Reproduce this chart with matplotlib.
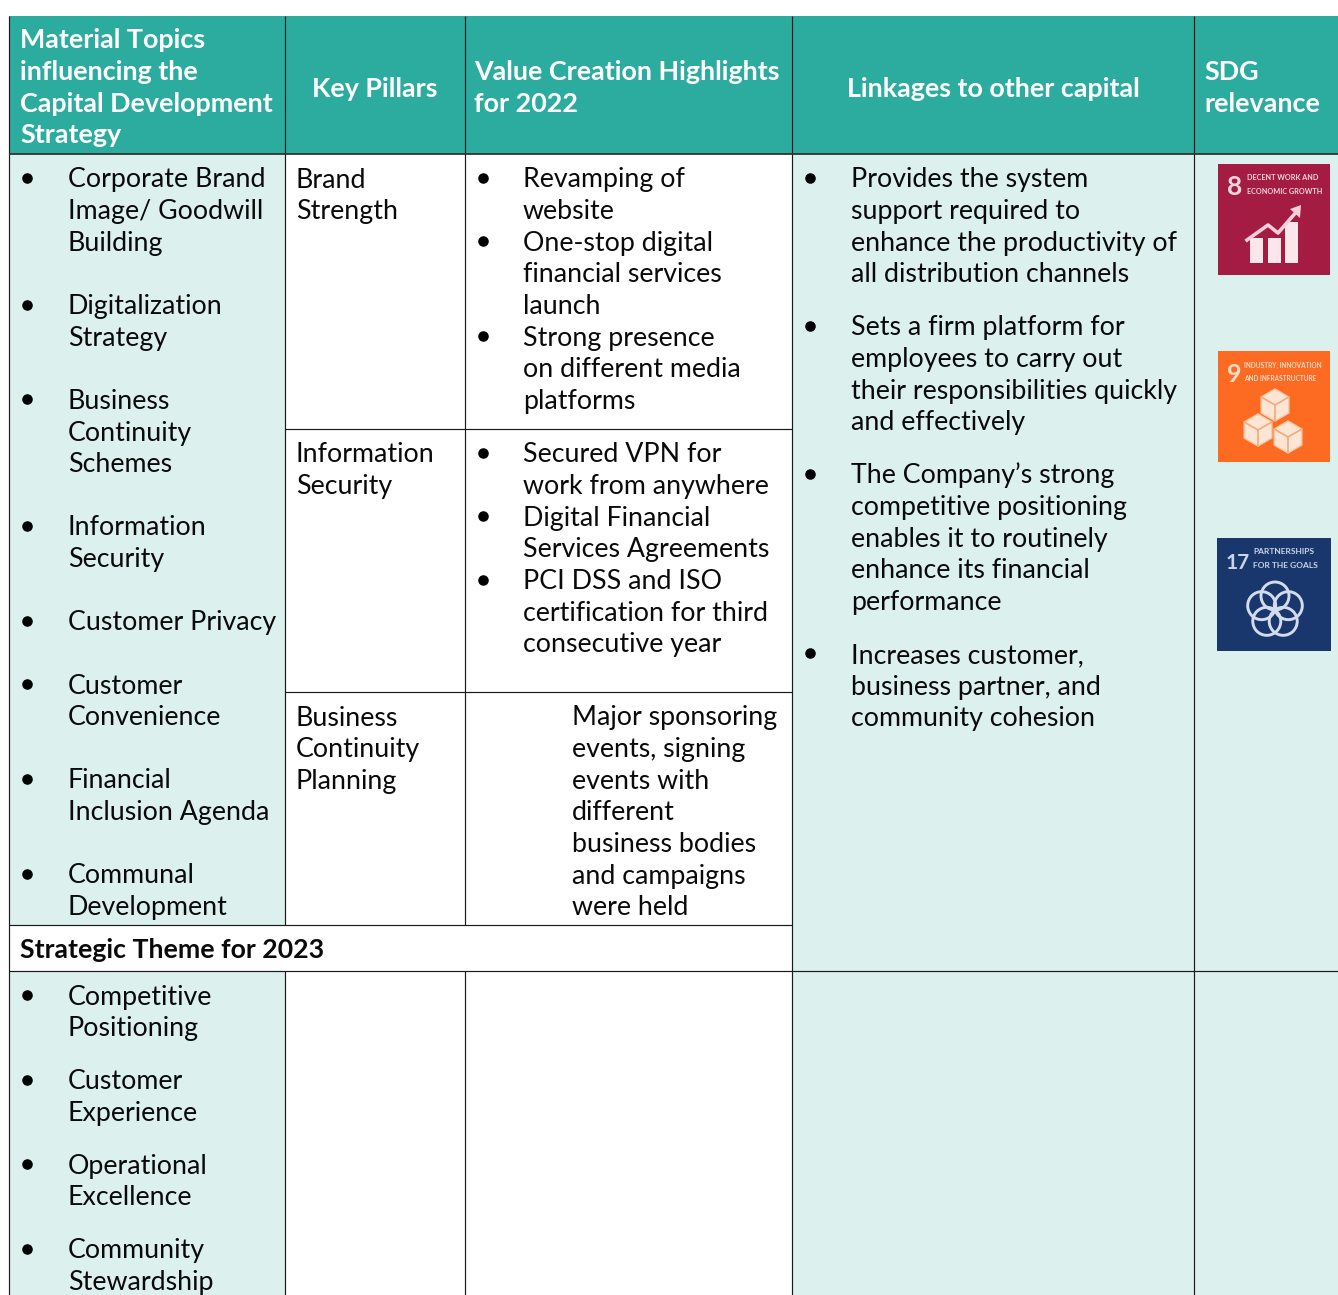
""" Capital development table with material topics, pillars and SDG icons """

import matplotlib

matplotlib.use("Agg")
import matplotlib.pyplot as plt
import numpy as np
from matplotlib.patches import Circle, Polygon, Rectangle

plt.rcParams["font.family"] = ["Lato", "DejaVu Sans"]

TEAL = "#2cac9e"
PALE = "#dcf0ed"
LINE = "#1a1a1a"

header_left = [
    (["Material Topics", "influencing the", "Capital Development", "Strategy"], 20, 48.5),
    (["Value Creation Highlights", "for 2022"], 474.5, 80.5),
    (["SDG", "relevance"], 1204.5, 80.5),
]
header_centre = [("Key Pillars", 375), ("Linkages to other capital", 993)]

topics_2022 = [
    ["Corporate Brand", "Image/ Goodwill", "Building"],
    ["Digitalization", "Strategy"],
    ["Business", "Continuity", "Schemes"],
    ["Information", "Security"],
    ["Customer Privacy"],
    ["Customer", "Convenience"],
    ["Financial", "Inclusion Agenda"],
    ["Communal", "Development"],
]
topics_2023 = [
    ["Competitive", "Positioning"],
    ["Customer", "Experience"],
    ["Operational", "Excellence"],
    ["Community", "Stewardship"],
]
pillars = [
    (["Brand", "Strength"], 187.5),
    (["Information", "Security"], 462.5),
    (["Business", "Continuity", "Planning"], 725.5),
]
brand_highlights = [
    ["Revamping of", "website"],
    ["One-stop digital", "financial services", "launch"],
    ["Strong presence", "on different media", "platforms"],
]
security_highlights = [
    ["Secured VPN for", "work from anywhere"],
    ["Digital Financial", "Services Agreements"],
    ["PCI DSS and ISO", "certification for third", "consecutive year"],
]
continuity_highlights = [
    "Major sponsoring",
    "events, signing",
    "events with",
    "different",
    "business bodies",
    "and campaigns",
    "were held",
]
linkages = [
    ["Provides the system", "support required to",
     "enhance the productivity of", "all distribution channels"],
    ["Sets a firm platform for", "employees to carry out",
     "their responsibilities quickly", "and effectively"],
    ["The Company\u2019s strong", "competitive positioning",
     "enables it to routinely", "enhance its financial", "performance"],
    ["Increases customer,", "business partner, and", "community cohesion"],
]
theme_title = "Strategic Theme for 2023"

PITCH = 31.63
BODY_SIZE = 19.3
HEADER_SIZE = 19.4
THEME_SIZE = 19.2
INK = "#0a0a0a"


def draw_lines(ax, lines, y0, x, **kwargs):
    for i, line in enumerate(lines):
        ax.text(x, y0 + i * PITCH, line, va="baseline", **kwargs)


def draw_bullets(ax, items, y0, x_bullet, x_text, gap):
    """Bulleted list, y0 is the baseline of the first line"""
    y = y0
    for item in items:
        ax.plot([x_bullet], [y - 9.5], "o", ms=7.6, color="black", mec="none")
        draw_lines(ax, item, y, x_text, fontsize=BODY_SIZE, color=INK)
        y += len(item) * PITCH + gap


def rule(ax, xs, ys, colour=LINE, lw=0.85):
    ax.plot(xs, ys, color=colour, lw=lw, solid_capstyle="butt")


def draw_grid(ax):
    # fills
    ax.add_patch(Rectangle((9, 16), 1329, 138, fc=TEAL, ec="none"))
    ax.add_patch(Rectangle((9, 154), 276, 771, fc=PALE, ec="none"))
    ax.add_patch(Rectangle((9, 971), 276, 324, fc=PALE, ec="none"))
    ax.add_patch(Rectangle((792, 154), 546, 1141, fc=PALE, ec="none"))

    # rules
    for x in (9, 791.5, 1194):
        rule(ax, [x, x], [16, 1295])
    for x in (285, 464.5):
        rule(ax, [x, x], [16, 925])
        rule(ax, [x, x], [971, 1295])
    rule(ax, [9, 1338], [154, 154], "#333333", 1.3)
    rule(ax, [285, 792], [429, 429])
    rule(ax, [285, 792], [691.5, 691.5])
    rule(ax, [9, 792], [925, 925])
    rule(ax, [9, 1338], [971, 971])


def icon_base(ax, x, y, w, h, colour, number, number_size, title, title_x, title_size, ink):
    ax.add_patch(Rectangle((x, y), w, h, fc=colour, ec="none"))
    ax.text(x + 9, y + 31, number, color=ink, fontsize=number_size, fontweight="bold",
            va="baseline")
    for i, line in enumerate(title):
        ax.text(x + title_x, y + 14 + i * 13.5, line, color=ink, fontsize=title_size,
                fontweight="bold", va="center")


def draw_icon_growth(ax, x, y):
    icon_base(ax, x, y, 112, 111, "#a51c42", "8", 19, ["DECENT WORK AND", "ECONOMIC GROWTH"],
              29, 5.2, "#f3d5dd")
    for bx, top in [(32, 74), (50, 74), (67, 58)]:
        ax.add_patch(Rectangle((x + bx, y + top), 13, 99 - top, fc="#fbe6ec", ec="none"))
    xs = np.array([29, 50, 60, 80])
    ys = np.array([76, 61, 69, 46])
    ax.plot(x + xs, y + ys, color="#f6cfda", lw=2.6)
    ax.add_patch(Polygon([(x + 83, y + 41), (x + 72, y + 45), (x + 82, y + 54)],
                         fc="#f6cfda", ec="none"))


def draw_icon_industry(ax, x, y):
    icon_base(ax, x, y, 112, 111, "#fd6a22", "9", 18,
              ["INDUSTRY, INNOVATION", "AND INFRASTRUCTURE"], 26, 4.7, "#fddcc6")
    for cx, cy in [(57, 54), (40, 79), (70, 86)]:
        r = 16
        hexagon = [(cx + r * np.sin(a), cy - r * np.cos(a))
                   for a in np.deg2rad(np.arange(0, 360, 60))]
        pts = [(x + px, y + py) for px, py in hexagon]
        ax.add_patch(Polygon(pts, fc="#fde6d6", ec="#fbc9a6", lw=1))
        ax.plot([x + cx, x + cx], [y + cy, y + cy + r], color="#f9a878", lw=1.2)
        ax.plot([x + cx - r * 0.87, x + cx, x + cx + r * 0.87],
                [y + cy - r / 2, y + cy, y + cy - r / 2], color="#f9a878", lw=1.2)


def draw_icon_partners(ax, x, y):
    icon_base(ax, x, y, 114, 113, "#19376d", "17", 15, ["PARTNERSHIPS", "FOR THE GOALS"],
              36, 6.0, "#c9d4e6")
    cx, cy = x + 58, y + 72
    for a in np.deg2rad(np.arange(0, 360, 72)):
        ax.add_patch(Circle((cx + 14 * np.sin(a), cy - 14 * np.cos(a)), 14,
                            fc="none", ec="#d3dcec", lw=2.1))


fig = plt.figure(figsize=(13.38, 12.95), dpi=100)
ax = fig.add_axes([0, 0, 1, 1])
ax.set_xlim(0, 1338)
ax.set_ylim(1295, 0)
ax.axis("off")

draw_grid(ax)

for lines, x, y in header_left:
    draw_lines(ax, lines, y, x, fontsize=HEADER_SIZE, fontweight="bold", color="white")
for label, x in header_centre:
    ax.text(x, 97, label, ha="center", va="baseline", fontsize=HEADER_SIZE,
            fontweight="bold", color="white")

draw_bullets(ax, topics_2022, 187.5, 26.5, 68, PITCH)
draw_bullets(ax, topics_2023, 1004.5, 26.5, 68, 21.4)

for lines, y in pillars:
    draw_lines(ax, lines, y, 296, fontsize=BODY_SIZE, color=INK)

draw_bullets(ax, brand_highlights, 187.5, 482.5, 523, 0)
draw_bullets(ax, security_highlights, 462.5, 482.5, 523, 0)
draw_lines(ax, continuity_highlights, 725.5, 572, fontsize=BODY_SIZE, color=INK)
draw_bullets(ax, linkages, 187.5, 809.5, 851, 21.4)

ax.text(20, 958.5, theme_title, va="baseline", fontsize=THEME_SIZE, fontweight="bold",
        color=INK)

draw_icon_growth(ax, 1218, 164)
draw_icon_industry(ax, 1218, 351)
draw_icon_partners(ax, 1217, 538)

fig.savefig("out.png", dpi=100)
